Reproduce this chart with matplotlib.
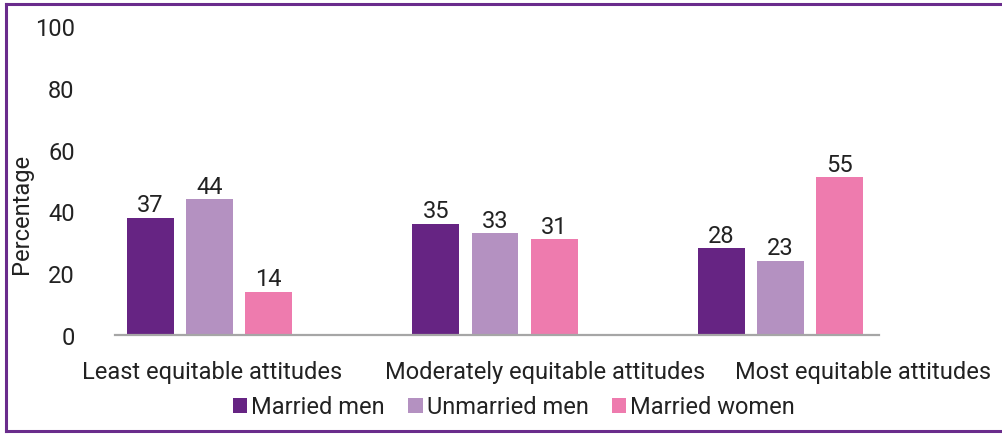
import matplotlib
matplotlib.use("Agg")
import matplotlib.pyplot as plt
from matplotlib.patches import Patch
from matplotlib.lines import Line2D
import numpy as np

plt.rcParams['font.family'] = ['Roboto', 'DejaVu Sans']

categories = ["Least equitable attitudes", "Moderately equitable attitudes", "Most equitable attitudes"]
series_names = ["Married men", "Unmarried men", "Married women"]
# bar heights as drawn in the reference
married_men = [38, 36, 28]
unmarried_men = [44, 33, 24]
married_women = [14, 31, 51]
# value labels as printed in the reference
married_men_labels = [37, 35, 28]
unmarried_men_labels = [44, 33, 23]
married_women_labels = [14, 31, 55]
yticks = [0, 20, 40, 60, 80, 100]

colors = ["#662483", "#B491C1", "#EE7BAE"]
FS = 17
TXT = "#222222"

fig = plt.figure(figsize=(10.03, 4.35), dpi=100)
W, H = 1003, 435
ax = fig.add_axes([115 / W, 1 - 336 / H, (879 - 115) / W, (336 - 27) / H])

x = np.arange(len(categories))
offsets = [-0.2067, 0.0, 0.2067]
width = 0.1646
values = [married_men, unmarried_men, married_women]
labels = [married_men_labels, unmarried_men_labels, married_women_labels]

for vals, labs, off, col in zip(values, labels, offsets, colors):
    bars = ax.bar(x + off, vals, width=width, color=col)
    for b, lab in zip(bars, labs):
        ax.annotate(str(lab), (b.get_x() + b.get_width() / 2, b.get_height()),
                    xytext=(0, 1), textcoords="offset points",
                    ha="center", va="bottom", fontsize=FS, color=TXT)

ax.set_xlim(-0.331, 2.345)
ax.set_ylim(0, 100)
ax.set_yticks(yticks)
ax.set_yticklabels([str(t) for t in yticks], fontsize=FS, color=TXT)
label_shift = [0.009, 0.175, 0.289]
ax.set_xticks(x + np.array(label_shift))
ax.set_xticklabels(categories, fontsize=FS, color=TXT)
ax.tick_params(axis="y", length=0, pad=29)
ax.tick_params(axis="x", length=0, pad=18)
for s in ["left", "right", "top"]:
    ax.spines[s].set_visible(False)
ax.spines["bottom"].set_color("#A6A6A6")
ax.spines["bottom"].set_linewidth(1.6)

fig.text(22 / W, 1 - 214 / H, "Percentage", rotation=90, ha="center", va="center",
         fontsize=FS, color=TXT)

handles = [Patch(facecolor=c, edgecolor="none") for c in colors]
fig.legend(handles, series_names, loc="center", bbox_to_anchor=(514 / W, 1 - 408 / H),
           ncol=3, frameon=False, fontsize=FS, handlelength=0.6, handleheight=0.6,
           handletextpad=0.17, columnspacing=1.0, labelcolor=TXT, borderpad=0)

border = "#6A2C8C"
fig.add_artist(Line2D([6 / W, 1.0], [1 - 5 / H, 1 - 5 / H], color=border, lw=2.2, transform=fig.transFigure))
fig.add_artist(Line2D([6 / W, 6 / W], [1 - 5 / H, 1 - 432 / H], color=border, lw=2.2, transform=fig.transFigure))
fig.add_artist(Line2D([6 / W, 1.0], [1 - 432 / H, 1 - 432 / H], color=border, lw=2.2, transform=fig.transFigure))

fig.savefig("out.png", dpi=100)
